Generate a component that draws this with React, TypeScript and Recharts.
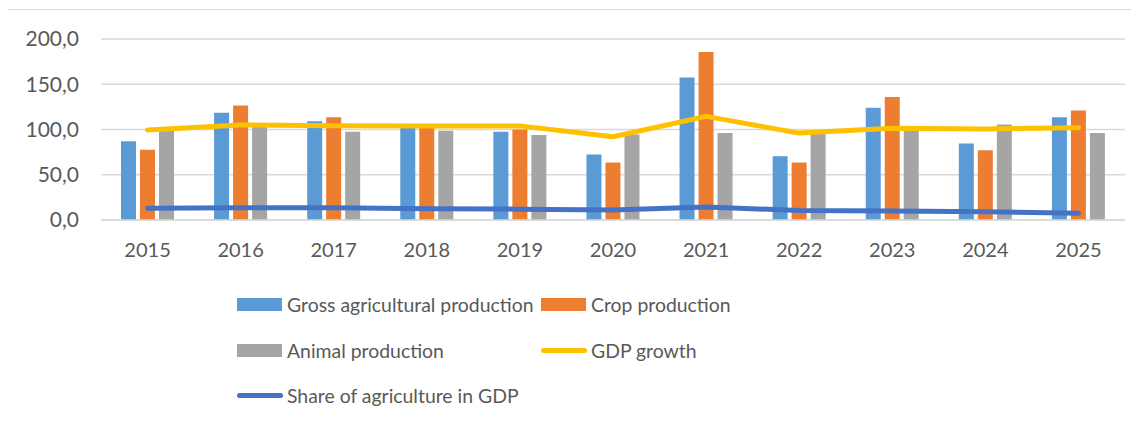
import React from 'react';
import { ComposedChart, Bar, Line, XAxis, YAxis, CartesianGrid, Legend } from 'recharts';

const years = ['2015', '2016', '2017', '2018', '2019', '2020', '2021', '2022', '2023', '2024', '2025'];
const grossProduction = [87, 118.5, 109, 103, 97.5, 72.5, 157.5, 70.5, 124, 84.5, 113.5];
const cropProduction = [77.5, 126.5, 113.5, 103.5, 100, 63.5, 185.5, 63.5, 136, 77, 121];
const animalProduction = [98.5, 104, 97.5, 98.5, 94, 94.5, 96, 95.5, 98.5, 105.5, 96];
const gdpGrowth = [99.5, 105, 104.2, 104, 104, 92, 114.5, 96, 101.5, 100.5, 102];
const agricultureShare = [13, 13.5, 13.5, 12.5, 12, 11, 14.5, 10.5, 10, 9, 7.5];
const yTicks = [0, 50, 100, 150, 200];
const seriesNames = [
  'Gross agricultural production',
  'Crop production',
  'Animal production',
  'GDP growth',
  'Share of agriculture in GDP',
];

const data = years.map((y, i) => ({
  year: y,
  gross: grossProduction[i],
  crop: cropProduction[i],
  animal: animalProduction[i],
  gdp: gdpGrowth[i],
  share: agricultureShare[i],
}));

const FONT = 'Lato, "Open Sans", sans-serif';
const TEXT = '#595959';
const slots = [
  { left: 237, top: 11 },
  { left: 541, top: 11 },
  { left: 237, top: 57 },
  { left: 541, top: 57 },
  { left: 237, top: 102 },
];

const LegendContent = (props: any) => {
  const payload = props.payload || [];
  return (
    <div style={{ position: 'relative', width: 1139, height: 130 }}>
      {payload.map((entry: any, i: number) => {
        const idx = seriesNames.indexOf(entry.value);
        const s = slots[idx >= 0 ? idx : i] || slots[0];
        const isLine = entry.type === 'line';
        return (
          <div
            key={i}
            style={{
              position: 'absolute',
              left: s.left,
              top: s.top,
              height: 26,
              display: 'flex',
              alignItems: 'center',
              fontFamily: FONT,
              fontSize: 19.4,
              color: TEXT,
              whiteSpace: 'nowrap',
            }}
          >
            {isLine ? (
              <div style={{ width: 46, height: 5, borderRadius: 3, background: entry.color, marginRight: 4 }} />
            ) : (
              <div style={{ width: 45, height: 13, background: entry.color, marginRight: 5 }} />
            )}
            <span>{entry.value}</span>
          </div>
        );
      })}
    </div>
  );
};

export default function App() {
  return (
    <div style={{ position: 'relative', margin: -8, width: 1139, height: 422, background: '#fff', overflow: 'hidden' }}>
      <div
        style={{
          position: 'absolute',
          left: 6,
          top: 9,
          width: 1200,
          height: 500,
          borderTop: '1.5px solid #d9d9d9',
          borderLeft: '1.5px solid #d9d9d9',
        }}
      />
      <ComposedChart
        width={1139}
        height={422}
        data={data}
        margin={{ top: 39, right: 14, bottom: 162, left: 0 }}
        barGap={4}
        barSize={15}
        style={{ position: 'absolute', left: 0, top: 0 }}
      >
        <CartesianGrid vertical={false} stroke="#d9d9d9" strokeWidth={1.5} />
        <XAxis
          dataKey="year"
          height={40}
          tickLine={false}
          axisLine={{ stroke: '#d9d9d9', strokeWidth: 1.5 }}
          tickMargin={17}
          tick={{ fill: TEXT, fontSize: 20, fontFamily: FONT }}
          interval={0}
        />
        <YAxis
          width={101}
          domain={[0, 200]}
          ticks={yTicks}
          tickLine={false}
          axisLine={false}
          tickMargin={16}
          tickFormatter={(v: number) => v.toFixed(1).replace('.', ',')}
          tick={{ fill: TEXT, fontSize: 21, fontFamily: FONT }}
        />
        <Bar dataKey="gross" name={seriesNames[0]} fill="#5B9BD5" isAnimationActive={false} />
        <Bar dataKey="crop" name={seriesNames[1]} fill="#ED7D31" isAnimationActive={false} />
        <Bar dataKey="animal" name={seriesNames[2]} fill="#A5A5A5" isAnimationActive={false} />
        <Line
          dataKey="gdp"
          name={seriesNames[3]}
          type="linear"
          stroke="#FFC000"
          strokeWidth={5}
          strokeLinecap="round"
          strokeLinejoin="round"
          dot={false}
          activeDot={false}
          isAnimationActive={false}
        />
        <Line
          dataKey="share"
          name={seriesNames[4]}
          type="linear"
          stroke="#4472C4"
          strokeWidth={5}
          strokeLinecap="round"
          strokeLinejoin="round"
          dot={false}
          activeDot={false}
          isAnimationActive={false}
        />
        <Legend
          layout="horizontal"
          verticalAlign="middle"
          align="center"
          content={<LegendContent />}
          wrapperStyle={{ left: 0, top: 280, width: 1139, height: 130 }}
        />
      </ComposedChart>
    </div>
  );
}
